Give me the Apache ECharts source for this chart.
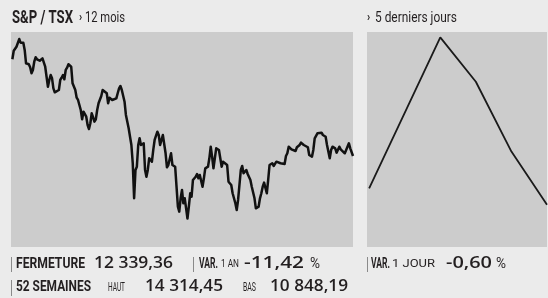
<!DOCTYPE html>
<html>
<head>
<meta charset="utf-8">
<script src="https://cdn.jsdelivr.net/npm/echarts@6/dist/echarts.min.js"></script>
<style>
  html, body { margin: 0; padding: 0; background: #ebebeb; }
  #chart { width: 548px; height: 298px; }
</style>
</head>
<body>
<div id="chart"></div>
<script>
// 12 mois : jour de bourse (0..250) et cloture
const yearDays = [1, 2, 4, 5, 6, 7, 8, 9, 10, 11, 12, 13, 14, 15, 16, 17, 18, 19, 21, 22,
  23, 24, 25, 26, 27, 28, 29, 30, 31, 32, 33, 35, 36, 37, 38, 39, 40, 41, 42, 44,
  45, 46, 47, 48, 49, 50, 51, 52, 53, 54, 55, 56, 57, 58, 59, 60, 61, 62, 63, 64,
  66, 67, 68, 70, 71, 72, 74, 75, 77, 78, 79, 80, 81, 83, 84, 85, 86, 87, 88, 89,
  90, 91, 92, 93, 94, 95, 96, 97, 98, 99, 100, 101, 102, 103, 104, 105, 107, 108, 109, 111,
  112, 113, 114, 115, 117, 118, 120, 121, 122, 123, 124, 125, 126, 127, 128, 129, 130, 131, 132, 133,
  135, 136, 137, 138, 140, 141, 142, 144, 145, 146, 147, 148, 149, 150, 152, 153, 154, 155, 156, 158,
  159, 161, 162, 164, 165, 166, 168, 169, 170, 172, 173, 175, 176, 178, 179, 181, 182, 183, 184, 185,
  187, 188, 189, 191, 192, 194, 195, 197, 198, 200, 201, 202, 203, 205, 206, 208, 209, 211, 212, 214,
  215, 217, 218, 220, 221, 222, 224, 225, 227, 228, 230, 231, 233, 234, 235, 237, 238, 240, 241, 242,
  244, 245, 247, 248, 250];
const yearCloses = [13923, 14089, 14166, 14180, 14314, 14244, 14263, 14244, 14103, 13846,
  13813, 13827, 13769, 13653, 13717, 13877, 13962, 13923, 13896, 13910,
  13942, 13923, 13780, 13587, 13394, 13524, 13620, 13556, 13363, 13286,
  13279, 13331, 13524, 13568, 13620, 13537, 13717, 13761, 13827, 13780,
  13460, 13446, 13331, 13182, 13138, 13041, 12945, 12765, 12912, 12931,
  12815, 12655, 12578, 12688, 12881, 12804, 12719, 12765, 12945, 13074,
  13215, 13331, 13311, 13267, 13074, 13182, 13138, 13170, 13170, 13267,
  13363, 13408, 13331, 13105, 12848, 12815, 12591, 12559, 12269, 11916,
  11240, 11787, 11850, 12269, 12398, 12269, 12302, 12302, 11787, 11657,
  11787, 12012, 12043, 11947, 12173, 12366, 12526, 12462, 12269, 12462,
  12429, 12109, 11839, 11883, 12109, 11883, 11850, 11464, 11078, 10982,
  11240, 11401, 11144, 11240, 11047, 10848, 11078, 11337, 11271, 11594,
  11657, 11709, 11626, 11690, 11464, 11626, 11819, 11850, 12012, 12236,
  12043, 11819, 12012, 12205, 12173, 12205, 11850, 11947, 11916, 11883,
  11561, 11497, 11337, 11144, 11015, 11208, 11787, 11864, 11723, 11787,
  11709, 11594, 11464, 11240, 11047, 11078, 11240, 11337, 11464, 11542,
  11337, 11594, 11883, 11916, 11864, 11947, 11960, 11916, 11947, 11902,
  12057, 12109, 12236, 12186, 12205, 12153, 12225, 12269, 12314, 12269,
  12236, 12225, 12076, 12043, 12173, 12398, 12495, 12481, 12507, 12462,
  12429, 12269, 12012, 12173, 12236, 12205, 12121, 12236, 12186, 12159,
  12109, 12173, 12302, 12205, 12057];

// 5 derniers jours
const weekDays = [0, 2, 3, 4, 5];
const weekCloses = [12351.7, 12464, 12431, 12379, 12339.36];

const indexName = 'S&P / TSX';
const yearTitle = '12 mois';
const weekTitle = '5 derniers jours';
const closeValue = '12 339,36';
const yearChange = '-11,42';
const dayChange = '-0,60';
const high52 = '14 314,45';
const low52 = '10 848,19';

const chart = echarts.init(document.getElementById('chart'));

const SANS = 'Roboto, "Noto Sans", sans-serif';
const NUM = '"Open Sans", "Noto Sans", sans-serif';
const INK = '#231f20';

// squeeze a text run horizontally so it fills the width seen in the original
const ctx = document.createElement('canvas').getContext('2d');
function fitScale(text, font, width) {
  ctx.font = font;
  return width / ctx.measureText(text).width;
}

function txt(x, y, text, font, width, scale) {
  const s = width ? fitScale(text, font, width) : (scale || 0.82);
  return {
    type: 'text', x: x, y: y, scaleX: s, silent: true,
    style: { text: text, font: font, fill: INK, verticalAlign: 'middle', align: 'left' }
  };
}
function bar(x, y1, y2) {
  return { type: 'line', silent: true, shape: { x1: x + 0.5, y1: y1, x2: x + 0.5, y2: y2 },
    style: { stroke: '#8a8a8a', lineWidth: 1 } };
}

chart.setOption({
  animation: false,
  backgroundColor: '#ebebeb',
  grid: [
    { left: 11, top: 32, width: 342, height: 215, show: true, backgroundColor: '#cccccc', borderWidth: 0 },
    { left: 367, top: 32, width: 180, height: 215, show: true, backgroundColor: '#cccccc', borderWidth: 0 }
  ],
  xAxis: [
    { type: 'value', gridIndex: 0, min: 0, max: 250, show: false },
    { type: 'value', gridIndex: 1, min: -0.06, max: 5, show: false }
  ],
  yAxis: [
    { type: 'value', gridIndex: 0, min: 10300, max: 14450, show: false },
    { type: 'value', gridIndex: 1, min: 12308, max: 12468, show: false }
  ],
  series: [
    {
      type: 'line', xAxisIndex: 0, yAxisIndex: 0, showSymbol: false,
      data: yearDays.map((d, i) => [d, yearCloses[i]]),
      lineStyle: { color: '#111111', width: 2.5, join: 'round' }
    },
    {
      type: 'line', xAxisIndex: 1, yAxisIndex: 1, showSymbol: false, clip: false,
      data: weekDays.map((d, i) => [d, weekCloses[i]]),
      lineStyle: { color: '#1a1a1a', width: 1.8 }
    }
  ],
  graphic: [
    txt(12, 18.5, indexName, 'bold 18px ' + SANS, 61),
    txt(79, 18, '›', 'bold 13px ' + SANS),
    txt(85, 18.5, yearTitle, '14px ' + SANS, 40),
    txt(367, 18, '›', 'bold 13px ' + SANS),
    txt(375, 18.5, weekTitle, '14px ' + SANS, 82),

    bar(11, 257, 272),
    txt(16, 264, 'FERMETURE', 'bold 14px ' + SANS, 69),
    txt(94, 263.5, closeValue, '600 17px ' + NUM, 79),
    bar(193, 257, 272),
    txt(199, 264, 'VAR.', 'bold 14px ' + SANS, 19),
    txt(221, 264.5, '1 AN', '11px ' + SANS, 18),
    txt(244, 263.5, yearChange, '600 17px ' + NUM, 60),
    txt(310, 264.5, '%', '14px ' + SANS, 10),

    bar(367, 257, 272),
    txt(371, 264, 'VAR.', 'bold 14px ' + SANS, 19),
    txt(392, 264.5, '1 JOUR', '11px ' + SANS, 43),
    txt(446, 263.5, dayChange, '600 17px ' + NUM, 46),
    txt(496, 264.5, '%', '14px ' + SANS, 10),

    bar(11, 280, 296),
    txt(16, 287, '52 SEMAINES', 'bold 14px ' + SANS, 75),
    txt(108, 287.5, 'HAUT', '12px ' + SANS, 17),
    txt(145, 286.5, high52, '600 17px ' + NUM, 78),
    txt(243, 287.5, 'BAS', '12px ' + SANS, 13),
    txt(270, 286.5, low52, '600 17px ' + NUM, 78)
  ]
});
</script>
</body>
</html>
